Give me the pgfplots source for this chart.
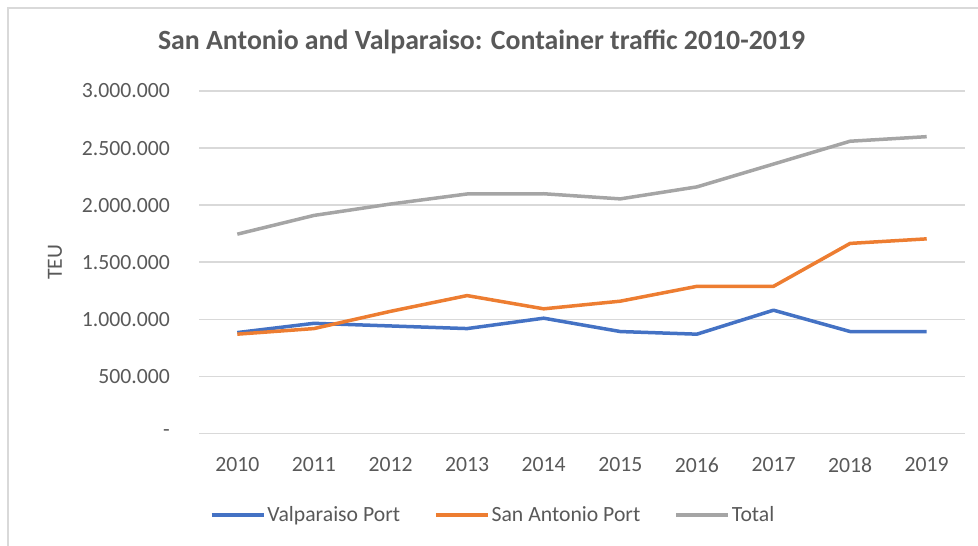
\documentclass[border=0pt]{standalone}
\usepackage{fontspec}
\setmainfont{Carlito}
\usepackage{pgfplots}
\pgfplotsset{compat=1.18}
\definecolor{xlblue}{HTML}{4472C4}
\definecolor{xlorange}{HTML}{ED7D31}
\definecolor{xlgray}{HTML}{A5A5A5}
\definecolor{txtgray}{HTML}{595959}
\definecolor{gridgray}{HTML}{D9D9D9}
\begin{document}
\begin{tikzpicture}
\path[use as bounding box] (0bp,0bp) rectangle (978bp,546bp);
\draw[gridgray, line width=1.5bp] (8bp,0bp) -- (8bp,538bp) -- (978bp,538bp);
\node[text=txtgray, font=\fontsize{27.8bp}{32bp}\selectfont\bfseries] at (481.5bp,504bp) {San Antonio and Valparaiso: Container traffic 2010-2019};
\begin{axis}[
  at={(199bp,112.5bp)}, anchor=south west,
  scale only axis, width=766bp, height=342.5bp,
  xmin=-0.5, xmax=9.5, ymin=0, ymax=3000000,
  axis line style={draw=none},
  major tick length=0pt,
  ymajorgrids, grid style={gridgray, line width=1.5bp},
  xtick={0,...,9},
  xticklabels={2010,2011,2012,2013,2014,2015,2016,2017,2018,2019},
  ytick={0,500000,1000000,1500000,2000000,2500000,3000000},
  yticklabels={-,500.000,1.000.000,1.500.000,2.000.000,2.500.000,3.000.000},
  scaled y ticks=false,
  ticklabel style={text=txtgray, font=\fontsize{21.7bp}{26bp}\selectfont, inner sep=0pt},
  yticklabel style={anchor=east, xshift=-29bp},
  xticklabel style={anchor=north, yshift=-24bp},
  ylabel={TEU},
  every axis y label/.style={at={(axis description cs:-0.188,0.5)}, rotate=90, anchor=center, text=txtgray, font=\fontsize{21.7bp}{26bp}\selectfont},
  legend columns=3,
  legend style={at={(axis description cs:0.384,-0.238)}, anchor=center, draw=none, fill=none,
    font=\fontsize{21.7bp}{26bp}\selectfont, text=txtgray,
    nodes={inner sep=2bp},
    /tikz/every even column/.append style={column sep=32bp}},
  legend image code/.code={\draw[#1, line width=3.5bp] (0bp,0bp) -- (52bp,0bp);},
  every axis plot/.append style={line width=3.5bp, line join=round},
]
\addplot[xlblue] coordinates {(0,884000) (1,965000) (2,942000) (3,919000) (4,1010000) (5,893000) (6,870000) (7,1080000) (8,893000) (9,893000)};
\addlegendentry{Valparaiso Port}
\addplot[xlorange] coordinates {(0,870000) (1,919000) (2,1070000) (3,1208000) (4,1092000) (5,1159000) (6,1289000) (7,1289000) (8,1665000) (9,1705000)};
\addlegendentry{San Antonio Port}
\addplot[xlgray] coordinates {(0,1746000) (1,1910000) (2,2010000) (3,2098000) (4,2100000) (5,2055000) (6,2160000) (7,2360000) (8,2560000) (9,2600000)};
\addlegendentry{Total}
\end{axis}
\end{tikzpicture}
\end{document}
